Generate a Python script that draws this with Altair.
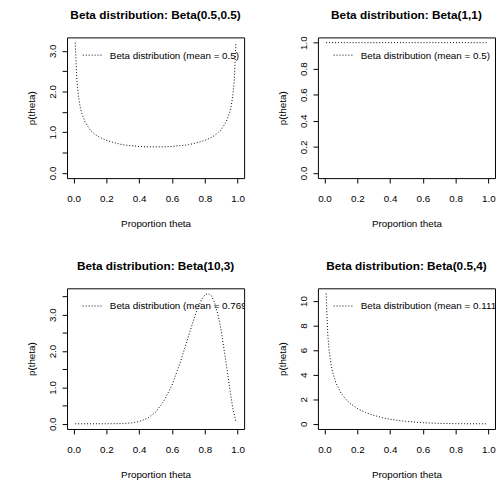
import altair as alt
import pandas as pd

# ---- data ----
x1 = [0.01, 0.02, 0.03, 0.04, 0.05, 0.07, 0.10, 0.13, 0.16, 0.20, 0.25, 0.30, 0.35, 0.40, 0.45, 0.50,
      0.55, 0.60, 0.65, 0.70, 0.75, 0.80, 0.84, 0.87, 0.90, 0.93, 0.95, 0.96, 0.97, 0.98, 0.99]
y1 = [3.20, 2.27, 1.87, 1.62, 1.46, 1.25, 1.06, 0.95, 0.87, 0.80, 0.74, 0.69, 0.67, 0.65, 0.64, 0.64,
      0.64, 0.65, 0.67, 0.69, 0.74, 0.80, 0.87, 0.95, 1.06, 1.25, 1.46, 1.62, 1.87, 2.27, 3.20]

x2 = [0.01, 0.25, 0.50, 0.75, 0.99]
y2 = [1.0, 1.0, 1.0, 1.0, 1.0]

x3 = [0.01, 0.10, 0.20, 0.30, 0.35, 0.40, 0.45, 0.50, 0.55, 0.60, 0.65, 0.70, 0.75, 0.78, 0.80, 0.82,
      0.84, 0.86, 0.88, 0.90, 0.93, 0.95, 0.97, 0.99]
y3 = [0.0, 0.0, 0.0002, 0.006, 0.022, 0.062, 0.15, 0.32, 0.62, 1.06, 1.68, 2.40, 3.10, 3.41, 3.54, 3.58,
      3.52, 3.33, 3.01, 2.56, 1.68, 1.04, 0.45, 0.06]

x4 = [0.01, 0.02, 0.03, 0.04, 0.05, 0.07, 0.10, 0.13, 0.16, 0.20, 0.25, 0.30, 0.35, 0.40, 0.45, 0.50,
      0.60, 0.70, 0.80, 0.90, 0.99]
y4 = [10.61, 7.28, 5.76, 4.84, 4.19, 3.33, 2.52, 2.00, 1.62, 1.25, 0.92, 0.69, 0.51, 0.37, 0.27, 0.19,
      0.09, 0.035, 0.010, 0.001, 0.0]

titles = ["Beta distribution: Beta(0.5,0.5)", "Beta distribution: Beta(1,1)",
          "Beta distribution: Beta(10,3)", "Beta distribution: Beta(0.5,4)"]
legend_texts = ["Beta distribution (mean = 0.5)", "Beta distribution (mean = 0.5)",
                "Beta distribution (mean = 0.769)", "Beta distribution (mean = 0.111)"]
x_ticks = [0.0, 0.2, 0.4, 0.6, 0.8, 1.0]
y_ticks = [[0.0, 0.5, 1.0, 1.5, 2.0, 2.5, 3.0],
           [0.0, 0.2, 0.4, 0.6, 0.8, 1.0],
           [0.0, 0.5, 1.0, 1.5, 2.0, 2.5, 3.0, 3.5],
           [0, 2, 4, 6, 8, 10]]
y_formats = [".1f", ".1f", ".1f", "d"]
y_int_labels_only = [True, False, True, False]
# the "1.0" label of panel 2 reaches above the frame; compensate so titles align
title_offsets = [7, 5, 7, 7]

FONT = "Liberation Sans"
W, H = 180, 143


def panel(xs, ys, title, legend_text, yt, yfmt, int_only, toff):
    df = pd.DataFrame({"theta": xs, "p": ys})
    ymax = max(ys)
    xscale = alt.Scale(domain=[-0.04, 1.04], nice=False, zero=False)
    yscale = alt.Scale(domain=[-0.04 * ymax, 1.04 * ymax], nice=False, zero=False)
    label_expr = "datum.value % 1 == 0 ? datum.label : ''" if int_only else "datum.label"
    line = alt.Chart(df).mark_line(color="black", strokeDash=[1, 2], strokeWidth=1).encode(
        x=alt.X("theta:Q", scale=xscale,
                axis=alt.Axis(values=x_ticks, format=".1f", title="Proportion theta",
                              labelPadding=11, titleX=W / 2, titleY=46.5,
                              titleBaseline="middle", titleAlign="center")),
        y=alt.Y("p:Q", scale=yscale,
                axis=alt.Axis(values=yt, format=yfmt, labelExpr=label_expr, title="p(theta)",
                              labelAngle=270, labelAlign="center", labelBaseline="alphabetic",
                              labelPadding=7, titleAngle=270, titleX=-36.2, titleY=H / 2,
                              titleBaseline="middle", titleAlign="center")),
    )
    one = pd.DataFrame({"k": [0]})
    leg_line = alt.Chart(one).mark_rule(color="black", strokeDash=[1, 2], strokeWidth=1).encode(
        x=alt.value(16), x2=alt.value(35), y=alt.value(18))
    leg_text = alt.Chart(one).mark_text(align="left", baseline="middle", fontSize=10, font=FONT,
                                        color="black", clip=True).encode(
        x=alt.value(43.5), y=alt.value(18.5), text=alt.value(legend_text))
    return alt.layer(line, leg_line, leg_text).properties(
        width=W, height=H,
        title=alt.TitleParams(title, fontSize=12, fontWeight="bold", font=FONT, color="black",
                              anchor="middle", frame="group", baseline="alphabetic", offset=toff))


panels = [panel(*args) for args in
          zip([x1, x2, x3, x4], [y1, y2, y3, y4], titles, legend_texts, y_ticks, y_formats,
              y_int_labels_only, title_offsets)]

chart = alt.concat(*panels, columns=2, spacing=alt.RowColnumber(row=112, column=75),
                   bounds="flush").properties(
    padding={"left": 18, "top": -4, "right": 0, "bottom": 0}, background="white"
).configure_view(stroke="black", strokeWidth=1).configure_axis(
    domain=False, grid=False, ticks=True, tickColor="black", tickSize=5, tickWidth=1,
    labelFont=FONT, labelFontSize=10, labelColor="black", titleFont=FONT, titleFontSize=10,
    titleFontWeight="normal", titleColor="black", labelOverlap=False, labelFlush=False,
    labelBound=False
)

chart.save("out.html", embed_options={"renderer": "svg", "actions": False})
